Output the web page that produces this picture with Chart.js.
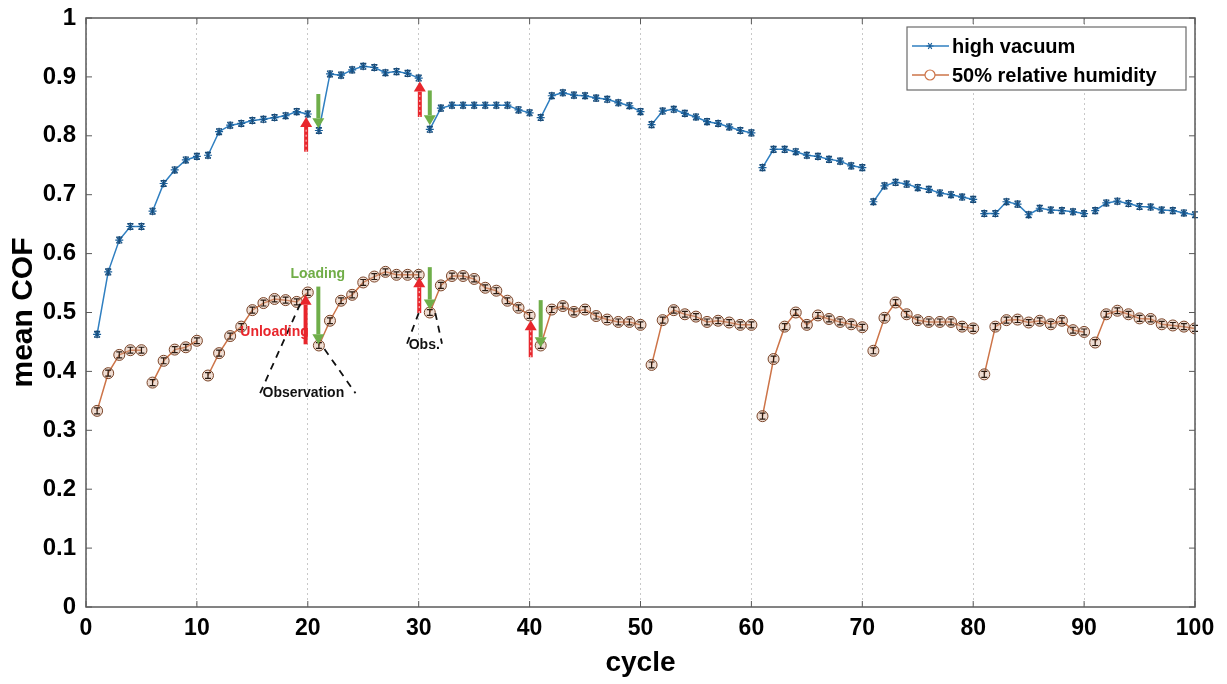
<!DOCTYPE html>
<html>
<head>
<meta charset="utf-8">
<script src="https://cdn.jsdelivr.net/npm/chart.js@4.4.1/dist/chart.umd.min.js"></script>
<style>
  html, body { margin: 0; padding: 0; background: #fff; }
  #wrap { width: 1227px; height: 684px; }
</style>
</head>
<body>
<div id="wrap"><canvas id="cofChart" width="1227" height="684"></canvas></div>
<script>
// mean COF per cycle
const hvCOF = [
  0.463, 0.569, 0.623, 0.646, 0.646, 0.672, 0.719, 0.742, 0.759, 0.765,
  0.767, 0.807, 0.818, 0.821, 0.826, 0.828, 0.831, 0.834, 0.841, 0.837,
  0.809, 0.905, 0.903, 0.912, 0.918, 0.916, 0.907, 0.909, 0.906, 0.898,
  0.811, 0.847, 0.852, 0.852, 0.852, 0.852, 0.852, 0.852, 0.844, 0.839,
  0.831, 0.868, 0.873, 0.869, 0.868, 0.864, 0.862, 0.856, 0.851, 0.841,
  0.819, 0.842, 0.845, 0.838, 0.832, 0.824, 0.821, 0.815, 0.809, 0.805,
  0.746, 0.777, 0.777, 0.773, 0.767, 0.765, 0.760, 0.757, 0.749, 0.746,
  0.688, 0.715, 0.721, 0.718, 0.712, 0.709, 0.703, 0.700, 0.696, 0.692,
  0.668, 0.668, 0.688, 0.684, 0.666, 0.677, 0.674, 0.673, 0.671, 0.668,
  0.673, 0.686, 0.689, 0.685, 0.680, 0.679, 0.674, 0.673, 0.669, 0.666
];
const rhCOF = [
  0.333, 0.397, 0.428, 0.436, 0.436, 0.381, 0.418, 0.437, 0.441, 0.452,
  0.393, 0.431, 0.460, 0.476, 0.504, 0.516, 0.523, 0.521, 0.518, 0.534,
  0.444, 0.486, 0.520, 0.530, 0.551, 0.561, 0.569, 0.564, 0.564, 0.564,
  0.500, 0.546, 0.562, 0.562, 0.557, 0.542, 0.537, 0.520, 0.508, 0.495,
  0.444, 0.505, 0.511, 0.501, 0.505, 0.494, 0.488, 0.484, 0.484, 0.479,
  0.411, 0.487, 0.504, 0.497, 0.493, 0.484, 0.486, 0.483, 0.479, 0.479,
  0.324, 0.421, 0.476, 0.500, 0.479, 0.495, 0.489, 0.484, 0.480, 0.475,
  0.435, 0.491, 0.517, 0.497, 0.487, 0.484, 0.484, 0.484, 0.476, 0.473,
  0.395, 0.476, 0.487, 0.488, 0.483, 0.486, 0.480, 0.486, 0.470, 0.467,
  0.449, 0.497, 0.503, 0.497, 0.490, 0.489, 0.480, 0.478, 0.476, 0.473
];
const cycles = hvCOF.map((v, i) => i + 1);
// a new test run starts at these cycles, so no line joins them to the previous point
const runStarts = [6, 11, 21, 31, 41, 51, 61, 71, 81, 91];
const errHalf = 0.005;

const xTicks = [0, 10, 20, 30, 40, 50, 60, 70, 80, 90, 100];
const yTicks = [0, 0.1, 0.2, 0.3, 0.4, 0.5, 0.6, 0.7, 0.8, 0.9, 1];

// annotation arrows: [cycle, from COF, to COF]
const unloadArrows = [[19.85, 0.773, 0.832], [19.8, 0.446, 0.530], [30.1, 0.832, 0.892], [30.05, 0.499, 0.560], [40.1, 0.424, 0.487]];
const loadArrows = [[20.95, 0.871, 0.813], [20.95, 0.544, 0.446], [31.0, 0.877, 0.818], [31.0, 0.577, 0.505], [41.0, 0.521, 0.441]];
// labels: [text, cycle, COF, colour]
const noteLabels = [
  ['Loading', 20.9, 0.565, '#70ad47'],
  ['Unloading', 17.0, 0.467, '#e8262c'],
  ['Observation', 19.6, 0.363, '#111'],
  ['Obs.', 30.5, 0.445, '#111']
];
// dashed pointer lines: [cycle1, COF1, cycle2, COF2]
const pointerLines = [
  [15.7, 0.363, 19.4, 0.518],
  [21.5, 0.438, 24.3, 0.363],
  [28.95, 0.447, 30.0, 0.499],
  [31.5, 0.499, 32.1, 0.447]
];

const FONT = "'Liberation Sans', Arial, sans-serif";
const blue = '#2f7fc1';
const orange = '#cd7448';

function gapSegment(color) {
  return ctx => runStarts.includes(ctx.p1.parsed.x) ? 'rgba(0,0,0,0)' : color;
}

const errorBars = {
  id: 'errorBars',
  afterDatasetsDraw(chart) {
    const c = chart.ctx, x = chart.scales.x, y = chart.scales.y;
    c.save();
    chart.data.datasets.forEach((ds, di) => {
      c.strokeStyle = di === 0 ? '#1b4a75' : '#2a1a10';
      c.lineWidth = 1.2;
      ds.data.forEach(p => {
        const px = x.getPixelForValue(p.x);
        const y1 = y.getPixelForValue(p.y + errHalf), y2 = y.getPixelForValue(p.y - errHalf);
        c.beginPath();
        c.moveTo(px, y1); c.lineTo(px, y2);
        c.moveTo(px - 3, y1); c.lineTo(px + 3, y1);
        c.moveTo(px - 3, y2); c.lineTo(px + 3, y2);
        c.stroke();
      });
    });
    c.restore();
  }
};

function arrow(c, x, y, x0, yFrom, yTo, color, dashed) {
  const px = x.getPixelForValue(x0);
  const a = y.getPixelForValue(yFrom), b = y.getPixelForValue(yTo);
  const dir = b < a ? -1 : 1;
  const head = 10;
  c.strokeStyle = color; c.fillStyle = color;
  c.lineWidth = 4;
  c.beginPath(); c.moveTo(px, a); c.lineTo(px, b - dir * head); c.stroke();
  if (dashed) {
    c.save(); c.strokeStyle = 'rgba(255,255,255,0.8)'; c.lineWidth = 1; c.setLineDash([2, 3]);
    c.beginPath(); c.moveTo(px, a); c.lineTo(px, b - dir * head); c.stroke(); c.restore();
  }
  c.beginPath(); c.moveTo(px - 6, b - dir * head); c.lineTo(px + 6, b - dir * head); c.lineTo(px, b); c.closePath(); c.fill();
}

const frameAndNotes = {
  id: 'frameAndNotes',
  afterDraw(chart) {
    const c = chart.ctx, x = chart.scales.x, y = chart.scales.y, a = chart.chartArea;
    c.save();
    // axes box with inward ticks
    c.strokeStyle = '#5a5a5a'; c.lineWidth = 1.5;
    c.strokeRect(a.left, a.top, a.right - a.left, a.bottom - a.top);
    c.lineWidth = 1;
    xTicks.forEach(t => {
      const px = x.getPixelForValue(t);
      c.beginPath(); c.moveTo(px, a.bottom); c.lineTo(px, a.bottom - 6); c.moveTo(px, a.top); c.lineTo(px, a.top + 6); c.stroke();
    });
    yTicks.forEach(t => {
      const py = y.getPixelForValue(t);
      c.beginPath(); c.moveTo(a.left, py); c.lineTo(a.left + 6, py); c.moveTo(a.right, py); c.lineTo(a.right - 6, py); c.stroke();
    });

    // arrows
    unloadArrows.forEach((r, i) => arrow(c, x, y, r[0], r[1], r[2], '#e8262c', i !== 1));
    loadArrows.forEach(r => arrow(c, x, y, r[0], r[1], r[2], '#6fae4a', false));

    // dashed pointer lines
    c.strokeStyle = '#111'; c.lineWidth = 1.8; c.setLineDash([7, 6]);
    pointerLines.forEach(l => {
      c.beginPath();
      c.moveTo(x.getPixelForValue(l[0]), y.getPixelForValue(l[1]));
      c.lineTo(x.getPixelForValue(l[2]), y.getPixelForValue(l[3]));
      c.stroke();
    });
    c.setLineDash([]);

    c.font = "bold 14px 'Liberation Sans', Arial, sans-serif";
    c.textAlign = 'center'; c.textBaseline = 'middle';
    noteLabels.forEach(n => {
      c.fillStyle = n[3];
      c.fillText(n[0], x.getPixelForValue(n[1]), y.getPixelForValue(n[2]));
    });

    // legend box
    const lx = 907, ly = 27, lw = 279, lh = 63;
    c.fillStyle = '#fff'; c.fillRect(lx, ly, lw, lh);
    c.strokeStyle = '#6a6a6a'; c.lineWidth = 1.2; c.strokeRect(lx, ly, lw, lh);
    const rows = [[chart.data.datasets[0], ly + 19], [chart.data.datasets[1], ly + 48]];
    rows.forEach((r, i) => {
      const ds = r[0], ry = r[1];
      c.strokeStyle = ds.borderColor; c.lineWidth = 1.5;
      c.beginPath(); c.moveTo(lx + 5, ry); c.lineTo(lx + 42, ry); c.stroke();
      c.beginPath();
      if (i === 0) {
        c.strokeStyle = '#1b5f99'; c.lineWidth = 1.2;
        [0, Math.PI / 3, 2 * Math.PI / 3].forEach(t => {
          c.moveTo(lx + 23 - 3.5 * Math.cos(t), ry - 3.5 * Math.sin(t));
          c.lineTo(lx + 23 + 3.5 * Math.cos(t), ry + 3.5 * Math.sin(t));
        });
        c.stroke();
      } else {
        c.fillStyle = '#fff'; c.strokeStyle = ds.borderColor; c.lineWidth = 1.2;
        c.arc(lx + 23, ry, 5, 0, Math.PI * 2); c.fill(); c.stroke();
      }
      c.fillStyle = '#000'; c.textAlign = 'left';
      c.font = "bold 20px 'Liberation Sans', Arial, sans-serif";
      c.fillText(ds.label, lx + 45, ry + 1);
    });
    c.restore();
  }
};

new Chart(document.getElementById('cofChart').getContext('2d'), {
  type: 'line',
  data: {
    datasets: [
      {
        label: 'high vacuum',
        data: cycles.map((c, i) => ({ x: c, y: hvCOF[i] })),
        borderColor: blue,
        borderWidth: 1.5,
        pointStyle: 'star',
        pointRadius: 4,
        pointBorderColor: '#1b5f99',
        pointBorderWidth: 1.2,
        segment: { borderColor: gapSegment(blue) }
      },
      {
        label: '50% relative humidity',
        data: cycles.map((c, i) => ({ x: c, y: rhCOF[i] })),
        borderColor: orange,
        borderWidth: 1.5,
        pointStyle: 'circle',
        pointRadius: 5.5,
        pointBackgroundColor: 'rgba(215,170,145,0.4)',
        pointBorderColor: '#7a4428',
        pointBorderWidth: 1,
        segment: { borderColor: gapSegment(orange) }
      }
    ]
  },
  options: {
    responsive: false,
    animation: false,
    layout: { padding: { top: 18, right: 32, left: 0, bottom: 0 } },
    plugins: { legend: { display: false }, tooltip: { enabled: false } },
    scales: {
      x: {
        type: 'linear', min: 0, max: 100,
        afterBuildTicks: s => { s.ticks = xTicks.map(v => ({ value: v })); },
        afterFit: s => { s.height = 77; s.paddingRight = 0; s.paddingLeft = 0; },
        grid: { color: '#c8c8c8', drawTicks: false, lineWidth: 1 },
        border: { display: false, dash: [2, 3] },
        ticks: { color: '#000', padding: 8, font: { family: FONT, size: 23, weight: 'bold' } },
        title: { display: true, text: 'cycle', color: '#000', padding: { top: 0 }, font: { family: FONT, size: 28, weight: 'bold' } }
      },
      y: {
        min: 0, max: 1,
        afterBuildTicks: s => { s.ticks = yTicks.map(v => ({ value: v })); },
        afterFit: s => { s.width = 86; s.paddingTop = 0; s.paddingBottom = 0; },
        grid: { display: false, drawTicks: false },
        border: { display: false },
        ticks: { color: '#000', padding: 10, font: { family: FONT, size: 24, weight: 'bold' }, callback: v => String(Math.round(v * 10) / 10) },
        title: { display: true, text: 'mean COF', color: '#000', padding: { top: 6, bottom: 0 }, font: { family: FONT, size: 30, weight: 'bold' } }
      }
    }
  },
  plugins: [errorBars, frameAndNotes]
});
</script>
</body>
</html>
